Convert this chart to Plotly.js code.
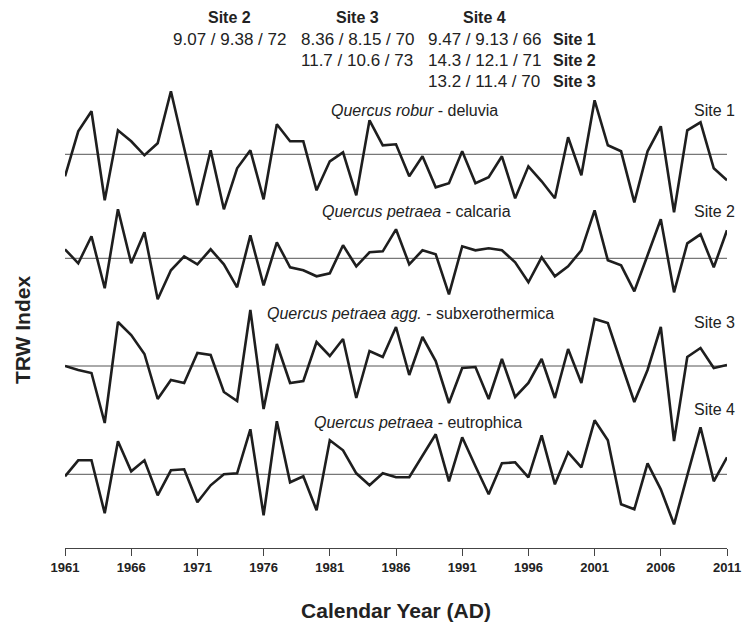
<!DOCTYPE html>
<html><head><meta charset="utf-8">
<script src="https://cdn.plot.ly/plotly-3.0.1.min.js"></script>
<style>html,body{margin:0;padding:0;background:#fff}#chart{width:742px;height:622px}</style>
</head><body><div id="chart"></div>
<script>
// Years
var years = [];
for (var yr = 1961; yr <= 2011; yr++) years.push(yr);
var tickYears = [1961,1966,1971,1976,1981,1986,1991,1996,2001,2006,2011];

// TRW indices
var site1 = [0.78,1.23,1.43,0.54,1.24,1.13,0.99,1.11,1.63,1.06,
             0.49,1.04,0.45,0.86,1.04,0.55,1.30,1.13,1.13,0.64,
             0.93,1.02,0.59,1.34,1.09,1.10,0.78,0.98,0.67,0.71,
             1.03,0.71,0.77,0.98,0.56,0.88,0.73,0.56,1.17,0.79,
             1.54,1.09,1.03,0.52,1.03,1.28,0.42,1.24,1.32,0.86,0.74];
var site2 = [1.09,0.95,1.22,0.70,1.49,0.95,1.26,0.59,0.88,1.02,
             0.94,1.09,0.94,0.71,1.23,0.73,1.16,0.91,0.88,0.82,
             0.85,1.13,0.92,1.06,1.07,1.29,0.94,1.08,1.04,0.64,
             1.12,1.08,1.10,1.08,0.96,0.76,1.01,0.82,0.92,1.08,
             1.48,0.98,0.93,0.67,1.03,1.39,0.66,1.15,1.24,0.91,1.28];
var site3 = [1.00,0.96,0.93,0.43,1.44,1.31,1.12,0.67,0.86,0.83,
             1.13,1.11,0.74,0.65,1.56,0.57,1.22,0.83,0.85,1.24,
             1.10,1.27,0.68,1.15,1.09,1.39,0.91,1.29,1.05,0.63,
             0.98,0.99,0.67,1.07,0.69,0.83,1.07,0.68,1.17,0.83,
             1.47,1.43,1.03,0.64,0.96,1.39,0.25,1.09,1.18,0.98,1.01];
var site4 = [0.98,1.14,1.14,0.61,1.33,1.03,1.14,0.79,1.04,1.05,
             0.72,0.89,1.00,1.01,1.45,0.59,1.53,0.92,0.98,0.64,
             1.34,1.24,1.01,0.89,1.01,0.97,0.97,1.19,1.40,0.93,
             1.37,1.08,0.80,1.11,1.12,0.97,1.39,0.90,1.22,1.07,
             1.54,1.34,0.70,0.65,1.11,0.85,0.50,0.99,1.47,0.93,1.17];

var siteNames = ["Site 1","Site 2","Site 3","Site 4"];
var speciesLabels = ["<i>Quercus robur</i> - deluvia",
                     "<i>Quercus petraea</i> - calcaria",
                     "<i>Quercus petraea agg.</i> - subxerothermica",
                     "<i>Quercus petraea</i> - eutrophica"];
// Inter-site statistics table
var tableCols = ["Site 2","Site 3","Site 4"];
var tableRows = ["Site 1","Site 2","Site 3"];
var tableVals = [["9.07 / 9.38 / 72","8.36 / 8.15 / 70","9.47 / 9.13 / 66"],
                 ["","11.7 / 10.6 / 73","14.3 / 12.1 / 71"],
                 ["","","13.2 / 11.4 / 70"]];

var series = [site1, site2, site3, site4];

// ---- layout geometry (pixels) ----
var W = 742, H = 622, ML = 65, MR = 15, MT = 0, MB = 74;
var PW = W - ML - MR, PH = H - MT - MB;
function px(x){ return (x - ML) / PW; }
function py(y){ return (H - MB - y) / PH; }
var baselinePx = [154.3, 258.3, 366, 474.3];
var pxPerUnit = 100;

var traces = [];
var shapes = [];
var layout = {
  width: W, height: H,
  margin: {l: ML, r: MR, t: MT, b: MB},
  paper_bgcolor: '#fff', plot_bgcolor: 'rgba(0,0,0,0)',
  showlegend: false,
  font: {family: 'Liberation Sans, Arial, sans-serif', color: '#222'},
  xaxis: {
    range: [1961, 2011], tickvals: tickYears, ticktext: tickYears.map(String),
    ticks: 'outside', ticklen: 7, tickcolor: '#444', tickwidth: 1,
    ticklabeloverflow: 'allow',
    showline: true, linecolor: '#444', linewidth: 1, showgrid: false, zeroline: false,
    tickfont: {family: 'Liberation Sans Narrow, Liberation Sans, Arial', size: 13, weight: 'bold', color: '#222'},
    title: {text: 'Calendar Year (AD)', standoff: 30,
            font: {family: 'Liberation Sans Narrow, Liberation Sans, Arial', size: 21, weight: 'bold', color: '#222'}}
  },
  annotations: []
};

series.forEach(function(vals, i){
  var yname = i === 0 ? 'y' : 'y' + (i + 1);
  var akey = i === 0 ? 'yaxis' : 'yaxis' + (i + 1);
  var hi = 1 + baselinePx[i] / pxPerUnit;
  var lo = hi - PH / pxPerUnit;
  var ax = {range: [lo, hi], visible: false, showgrid: false, zeroline: false, fixedrange: true};
  if (i > 0) ax.overlaying = 'y';
  layout[akey] = ax;
  traces.push({x: years, y: vals, yaxis: yname, type: 'scatter', mode: 'lines',
               line: {color: '#1e1e1e', width: 2.6}, hoverinfo: 'skip', cliponaxis: false});
  shapes.push({type: 'line', xref: 'x', yref: yname, x0: 1961, x1: 2011, y0: 1, y1: 1,
               line: {color: '#555', width: 1}, layer: 'below'});
});
layout.shapes = shapes;

// species labels & site labels
var specPos = [[414,110],[416,211],[410,313],[418,422]];
var sitePos = [110, 212, 322, 409];
speciesLabels.forEach(function(t, i){
  layout.annotations.push({text: t, xref: 'paper', yref: 'paper', x: px(specPos[i][0]), y: py(specPos[i][1]),
    xanchor: 'center', yanchor: 'middle', showarrow: false, font: {size: 16, color: '#222'}});
  layout.annotations.push({text: siteNames[i], xref: 'paper', yref: 'paper', x: px(737), y: py(sitePos[i]),
    xanchor: 'right', yanchor: 'middle', showarrow: false, font: {size: 16, color: '#222'}});
});

// table
var colX = [229, 357, 484], rowY = [39, 61, 82], headY = 17, rowLabelX = 574;
tableCols.forEach(function(c, j){
  layout.annotations.push({text: '<b>' + c + '</b>', xref: 'paper', yref: 'paper', x: px(colX[j]), y: py(headY),
    xanchor: 'center', yanchor: 'middle', showarrow: false, font: {size: 16, color: '#222'}});
});
tableRows.forEach(function(r, i){
  layout.annotations.push({text: '<b>' + r + '</b>', xref: 'paper', yref: 'paper', x: px(rowLabelX), y: py(rowY[i]),
    xanchor: 'center', yanchor: 'middle', showarrow: false, font: {size: 16, color: '#222'}});
  tableVals[i].forEach(function(v, j){
    if (!v) return;
    layout.annotations.push({text: v, xref: 'paper', yref: 'paper', x: px(colX[j]), y: py(rowY[i]),
      xanchor: 'center', yanchor: 'middle', showarrow: false, font: {size: 17, color: '#222'}});
  });
});

// y title
layout.annotations.push({text: 'TRW Index', xref: 'paper', yref: 'paper', x: px(22), y: py(330),
  xanchor: 'center', yanchor: 'middle', textangle: -90, showarrow: false,
  font: {family: 'Liberation Sans Narrow, Liberation Sans, Arial', size: 21, weight: 'bold', color: '#222'}});

Plotly.newPlot('chart', traces, layout, {displayModeBar: false, staticPlot: true});
</script></body></html>
